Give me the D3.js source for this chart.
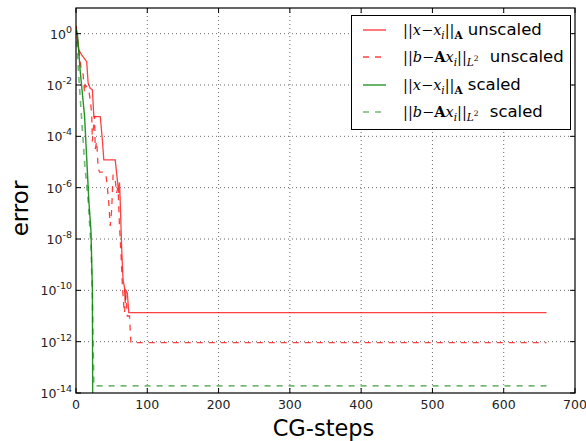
<!DOCTYPE html>
<html><head><meta charset="utf-8">
<script src="https://cdn.jsdelivr.net/npm/d3@7"></script>
<style>body{margin:0;background:#fff}svg{display:block}</style>
</head><body>
<svg id="c" width="586" height="441"></svg>
<script>
// ---- data ----
const xTicks = [0,100,200,300,400,500,600,700];
const yTickExps = [0,-2,-4,-6,-8,-10,-12,-14];

const rsSteps = [0,1,4,8,15,17,20,23,25,34,37,39,55,58,60,61,62,64,66,68,69,70,72,74,660];
const rsVals  = [2.0,1.0,2.3e-1,1.5e-1,8.1e-2,1.2e-2,7.4e-3,6.5e-3,5.9e-4,5.9e-4,7.2e-5,1.2e-5,1.2e-5,2.0e-6,6.3e-7,1.6e-6,3.2e-7,5.0e-9,2.5e-10,1.3e-10,3.2e-11,1.0e-10,7.9e-11,1.35e-11,1.35e-11];

const rdSteps = [0,2,5,7,10,12,13,16,18,20,22,23,24,26,27,29,31,33,40,42,44,46,48,50,52,55,57,59,61,63,65,67,68,70,72,75,77,660];
const rdVals  = [2.0,6.3e-1,1.3e-1,5.0e-2,2.5e-2,5.0e-3,1.0e-2,7.9e-3,6.3e-3,2.5e-3,7.9e-4,6.3e-5,1.6e-4,6.3e-4,3.2e-5,6.3e-5,6.3e-6,4.0e-6,4.0e-6,3.2e-6,1.0e-6,2.5e-7,3.2e-8,1.3e-7,3.2e-6,2.0e-6,6.3e-7,1.0e-6,3.2e-8,3.2e-9,1.6e-10,2.5e-11,1.3e-11,6.3e-11,1.0e-11,1.0e-11,9.1e-13,9.1e-13];

const gsSteps = [0,2,6,12,18,21,23,24];
const gsVals  = [1.5,1.0,3.2e-2,6.3e-4,3.2e-7,2.0e-8,1.0e-10,1e-20];

const gdSteps = [0,1,4,8,12,17,21,23,25,660];
const gdVals  = [1.5,5.6e-1,2.0e-2,4.4e-4,1.0e-5,3.2e-7,6.0e-9,5.0e-11,1.9e-14,1.9e-14];

// ---- layout ----
const L = 76, R = 575, T = 8, B = 393;
const svg = d3.select('#c');
const x = d3.scaleLinear().domain([0,700]).range([L,R]);
const y = d3.scaleLog().domain([1e-14,10]).range([B,T]);

// grid
const grid = svg.append('g').attr('stroke','#444').attr('stroke-width',0.8).attr('stroke-dasharray','1,3');
xTicks.filter(v=>v>0&&v<700).forEach(v=>grid.append('line').attr('x1',x(v)).attr('x2',x(v)).attr('y1',T).attr('y2',B));
yTickExps.filter(e=>e>-14).forEach(e=>grid.append('line').attr('x1',L).attr('x2',R).attr('y1',y(Math.pow(10,e))).attr('y2',y(Math.pow(10,e))));

// clip
svg.append('clipPath').attr('id','pc').append('rect').attr('x',L).attr('y',T).attr('width',R-L).attr('height',B-T);
const plot = svg.append('g').attr('clip-path','url(#pc)');
const line = d3.line().x(d=>x(d[0])).y(d=>y(d[1]));
function series(steps, vals, color, op, dash, w){
  plot.append('path').datum(steps.map((s,i)=>[s,vals[i]]))
    .attr('d',line).attr('fill','none').attr('stroke',color).attr('stroke-opacity',op)
    .attr('stroke-width',w).attr('stroke-dasharray',dash);
}
series(rsSteps, rsVals, '#ff0000', 0.75, null, 1.3);
series(rdSteps, rdVals, '#ff0000', 0.75, '6,6', 1.3);
series(gsSteps, gsVals, '#008000', 0.85, null, 1.4);
series(gdSteps, gdVals, '#008000', 0.55, '6,6', 1.6);

// ticks (inward, all four sides)
const tk = svg.append('g').attr('stroke','#000').attr('stroke-width',1);
xTicks.forEach(v=>{
  tk.append('line').attr('x1',x(v)).attr('x2',x(v)).attr('y1',B).attr('y2',B-5);
  tk.append('line').attr('x1',x(v)).attr('x2',x(v)).attr('y1',T).attr('y2',T+5);
});
yTickExps.forEach(e=>{
  const yy = y(Math.pow(10,e));
  tk.append('line').attr('x1',L).attr('x2',L+5).attr('y1',yy).attr('y2',yy);
  tk.append('line').attr('x1',R).attr('x2',R-5).attr('y1',yy).attr('y2',yy);
});

// frame
svg.append('rect').attr('x',L).attr('y',T).attr('width',R-L).attr('height',B-T)
  .attr('fill','none').attr('stroke','#000').attr('stroke-width',1.2);

// tick labels
const font = 'DejaVu Sans, sans-serif';
xTicks.forEach(v=>{
  svg.append('text').attr('x',x(v)).attr('y',B+16).attr('text-anchor','middle')
    .attr('font-family',font).attr('font-size',12.5).attr('fill','#222').text(v);
});
yTickExps.forEach(e=>{
  const yy = y(Math.pow(10,e));
  const t = svg.append('text').attr('x',72).attr('y',yy+5).attr('text-anchor','end')
    .attr('font-family',font).attr('font-size',12.5).attr('fill','#222');
  t.append('tspan').text('10');
  t.append('tspan').attr('dy',-6).attr('font-size',9.5).text(e);
});

// axis labels
svg.append('text').attr('x',(L+R)/2-2).attr('y',436).attr('text-anchor','middle')
  .attr('font-family',font).attr('font-size',22.5).attr('fill','#000').text('CG-steps');
svg.append('text').attr('transform','translate(28,'+((T+B)/2+8)+') rotate(-90)').attr('text-anchor','middle')
  .attr('font-family',font).attr('font-size',23).attr('fill','#000').text('error');

// legend
const lg = svg.append('g');
lg.append('rect').attr('x',351.5).attr('y',15.5).attr('width',219).attr('height',114)
  .attr('fill','#fff').attr('stroke','#000').attr('stroke-width',1);
const serif = 'DejaVu Serif, serif';
const N = (t)=>({t});
const I = (t)=>({t,it:true});
const legendItems = [
  {color:'#ff0000', op:0.75, dash:null, label:[N('||'),I('x'),N('−'),I('x'),{t:'i',it:true,sub:1},N('||'),{t:'A',bold:true,sub:1},{t:' unscaled',sans:true}]},
  {color:'#ff0000', op:0.75, dash:'6,6', label:[N('||'),I('b'),N('−'),{t:'A',bold:true},I('x'),{t:'i',it:true,sub:1},N('||'),{t:'L',it:true,sub:1},{t:'2',sub:2},{t:' unscaled',sans:true,dx:6}]},
  {color:'#008000', op:0.85, dash:null, label:[N('||'),I('x'),N('−'),I('x'),{t:'i',it:true,sub:1},N('||'),{t:'A',bold:true,sub:1},{t:' scaled',sans:true}]},
  {color:'#008000', op:0.55, dash:'6,6', label:[N('||'),I('b'),N('−'),{t:'A',bold:true},I('x'),{t:'i',it:true,sub:1},N('||'),{t:'L',it:true,sub:1},{t:'2',sub:2},{t:' scaled',sans:true,dx:6}]}
];
const rowY = [30,57,85,112];
legendItems.forEach((it,i)=>{
  const yy = rowY[i];
  lg.append('line').attr('x1',363).attr('x2',386).attr('y1',yy).attr('y2',yy)
    .attr('stroke',it.color).attr('stroke-opacity',it.op).attr('stroke-width',1.4).attr('stroke-dasharray',it.dash);
  const t = lg.append('text').attr('x',403).attr('y',yy+5).attr('font-size',14.5).attr('fill','#000').attr('font-family',serif);
  let level = 0;
  const off = {0:0,1:4,2:-1};
  it.label.forEach(s=>{
    const target = s.sub||0;
    const ts = t.append('tspan').text(s.t);
    const dy = off[target]-off[level];
    if(dy) ts.attr('dy',dy);
    if(s.dx) ts.attr('dx',s.dx);
    level = target;
    if(target===1) ts.attr('font-size',10.5);
    if(target===2) ts.attr('font-size',7.5);
    if(s.it) ts.attr('font-style','italic');
    if(s.bold) ts.attr('font-weight','bold');
    if(s.sans) ts.attr('font-family',font).attr('font-size',16.5);
  });
});
</script>
</body></html>
